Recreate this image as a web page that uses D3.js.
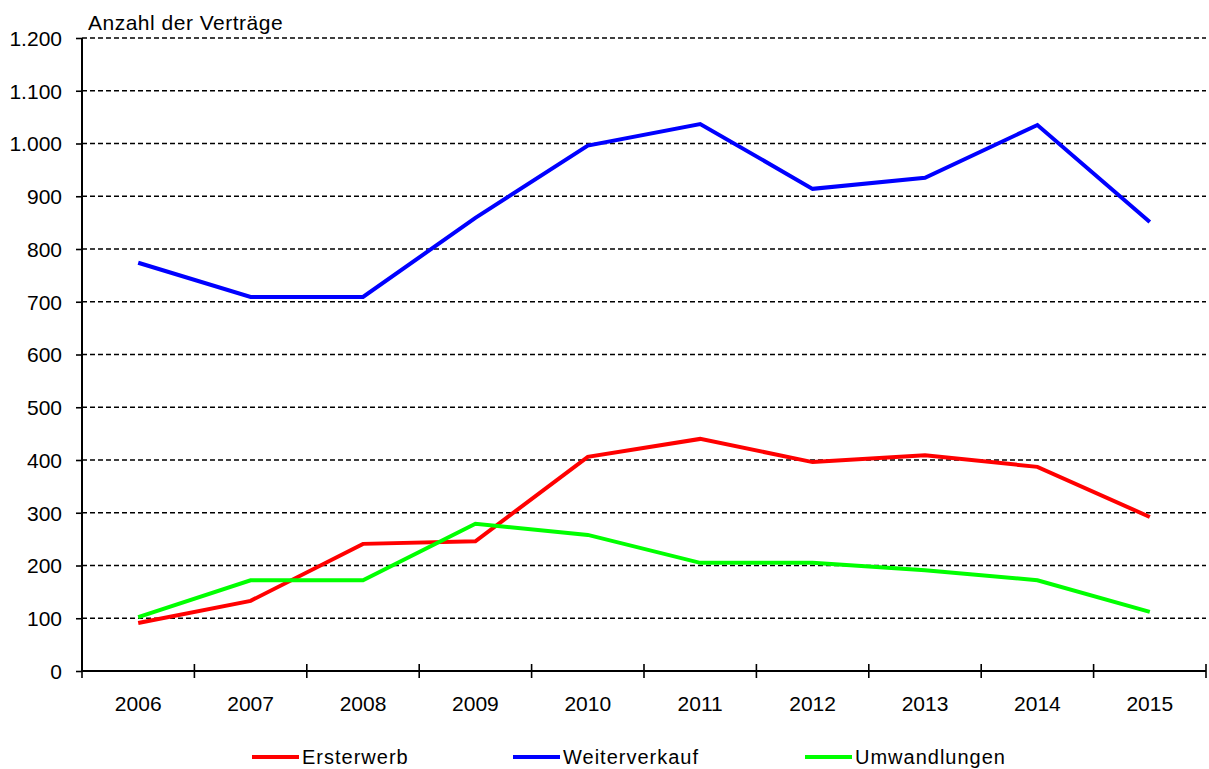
<!DOCTYPE html>
<html><head><meta charset="utf-8">
<script src="https://cdn.jsdelivr.net/npm/d3@7"></script>
<style>
html,body{margin:0;padding:0;background:#fff;}
svg{display:block;font-family:"Liberation Sans",Arial,sans-serif;}
</style></head>
<body>
<svg id="c" width="1209" height="769"></svg>
<script>
const years = ["2006","2007","2008","2009","2010","2011","2012","2013","2014","2015"];
const ersterwerb = [91,133,241,246,406,440,396,409,387,292];
const weiterverkauf = [774,709,709,859,996,1037,914,935,1035,851];
const umwandlungen = [102,172,172,279,258,205,205,191,172,112];
const yTicks = [0,100,200,300,400,500,600,700,800,900,1000,1100,1200];
const seriesNames = ["Ersterwerb","Weiterverkauf","Umwandlungen"];
const seriesColors = ["#ff0000","#0000ff","#00ff00"];
const yTitle = "Anzahl der Verträge";

const svg = d3.select("#c");
const pL = 82, pR = 1206, pT = 38, pB = 671;
const x = d3.scaleBand().domain(years).range([pL, pR]);
const y = d3.scaleLinear().domain([0,1200]).range([pB, pT]);
const fmt = v => d3.format(",")(v).replace(/,/g,".");

// gridlines
svg.append("g").selectAll("line").data(yTicks.filter(d=>d>0)).join("line")
  .attr("x1", pL).attr("x2", pR)
  .attr("y1", d=>y(d)).attr("y2", d=>y(d))
  .attr("stroke","#000").attr("stroke-width",1.6).attr("stroke-dasharray","5,3");

// y axis
const ya = svg.append("g").attr("transform",`translate(${pL},0)`)
  .call(d3.axisLeft(y).tickValues(yTicks).tickFormat(fmt).tickSize(6).tickPadding(14));
ya.select(".domain").attr("stroke","#000").attr("stroke-width",2).attr("d",`M0,${pT}V${pB}`);
ya.selectAll(".tick line").attr("stroke","#000").attr("stroke-width",1.6);
ya.selectAll(".tick text").attr("font-size",21).attr("fill","#000")
  .attr("font-family","'Liberation Sans',Arial,sans-serif").attr("dy","0.35em");

// x axis
const xa = svg.append("g").attr("transform",`translate(0,${pB})`)
  .call(d3.axisBottom(x).tickSize(0).tickPadding(25));
xa.select(".domain").attr("stroke","#000").attr("stroke-width",2).attr("d",`M${pL},0H${pR}`);
xa.selectAll(".tick text").attr("font-size",21).attr("fill","#000")
  .attr("font-family","'Liberation Sans',Arial,sans-serif");
const bounds = years.map(d=>x(d)).concat([pR]);
xa.append("g").selectAll("line").data(bounds).join("line")
  .attr("x1",d=>d).attr("x2",d=>d).attr("y1",-7).attr("y2",7)
  .attr("stroke","#000").attr("stroke-width",1.6);

// title
svg.append("text").attr("x",88).attr("y",30).attr("font-size",21)
  .attr("letter-spacing","0.5px").text(yTitle);

// lines
const line = d3.line().x((d,i)=>x(years[i])+x.bandwidth()/2).y(d=>y(d));
[ersterwerb, weiterverkauf, umwandlungen].forEach((s,i)=>{
  svg.append("path").datum(s).attr("d",line).attr("fill","none")
    .attr("stroke",seriesColors[i]).attr("stroke-width",4).attr("stroke-linejoin","miter");
});

// legend
const legX = [252, 513, 805];
const lg = svg.append("g");
seriesNames.forEach((n,i)=>{
  lg.append("line").attr("x1",legX[i]).attr("x2",legX[i]+47).attr("y1",757).attr("y2",757)
    .attr("stroke",seriesColors[i]).attr("stroke-width",4);
  lg.append("text").attr("x",legX[i]+50).attr("y",764).attr("font-size",20)
    .attr("letter-spacing","1px").attr("fill","#000").text(n);
});
</script>
</body></html>
